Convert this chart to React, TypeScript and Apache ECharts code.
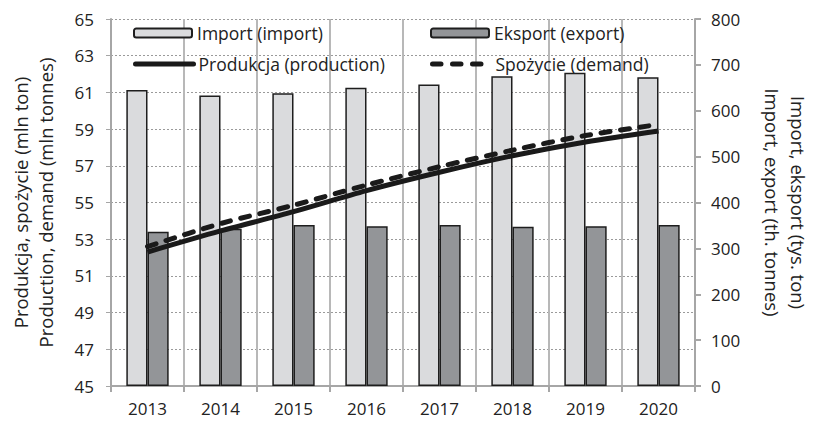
import React, { useEffect, useRef } from "react";
import * as echarts from "echarts";

const years = ["2013", "2014", "2015", "2016", "2017", "2018", "2019", "2020"];
const importVals = [645, 633, 638, 650, 657, 675, 683, 673];
const exportVals = [336, 343, 351, 348, 351, 347, 348, 351];
const production = [52.3, 53.45, 54.5, 55.65, 56.65, 57.55, 58.3, 58.9];
const demand = [52.6, 53.85, 54.85, 55.95, 56.95, 57.85, 58.65, 59.25];

const names = {
  imp: "Import (import)",
  exp: "Eksport (export)",
  prod: "Produkcja (production)",
  dem: "Spożycie (demand)",
};

const FONT = "Open Sans";
const TXT = "#222";
const AX = "#a6a6a6";
const LINE = "#1a1a1a";

export default function App() {
  const ref = useRef<HTMLDivElement>(null);
  useEffect(() => {
    if (!ref.current) return;
    const chart = echarts.init(ref.current, undefined, { renderer: "svg" });
    const legendBase = {
      padding: 0,
      itemGap: 0,
      itemWidth: 58,
      itemHeight: 9,
      textStyle: { fontFamily: FONT, fontSize: 17.5, color: TXT, padding: [0, 0, 0, 0] },
      selectedMode: false as const,
    };
    chart.setOption({
      animation: false,
      textStyle: { fontFamily: FONT },
      grid: { left: 105, right: 110, top: 19, bottom: 36 },
      legend: [
        { ...legendBase, left: 133, top: 24, data: [names.imp] },
        { ...legendBase, left: 430, top: 24, data: [names.exp] },
        {
          ...legendBase,
          left: 133,
          top: 55,
          data: [names.prod],
          itemStyle: { opacity: 0 },
          lineStyle: { width: 5, color: LINE, type: "solid", cap: "round" },
        },
        {
          ...legendBase,
          left: 430,
          top: 55,
          data: [names.dem],
          itemStyle: { opacity: 0 },
          lineStyle: { width: 5, color: LINE, type: [8.5, 11.5], cap: "round" },
        },
      ],
      xAxis: {
        type: "category",
        data: years,
        boundaryGap: true,
        axisLine: { lineStyle: { color: AX, width: 2 } },
        axisTick: { show: true, length: 6, lineStyle: { color: AX, width: 2 } },
        axisLabel: { fontFamily: FONT, fontSize: 17, color: TXT, margin: 14 },
        splitLine: { show: true, lineStyle: { color: "#b8b8b8", width: 2 } },
      },
      yAxis: [
        {
          type: "value",
          min: 45,
          max: 65,
          interval: 2,
          position: "left",
          name: "Produkcja, spożycie (mln ton)\nProduction, demand (mln tonnes)",
          nameLocation: "middle",
          nameRotate: 90,
          nameGap: 53,
          nameTextStyle: { fontFamily: FONT, fontSize: 18.5, color: TXT, lineHeight: 25 },
          axisLine: { show: true, lineStyle: { color: AX, width: 2 } },
          axisTick: { show: true, length: 5, lineStyle: { color: AX } },
          axisLabel: { fontFamily: FONT, fontSize: 17, color: TXT, margin: 17 },
          splitLine: { show: true, lineStyle: { color: "#9a9a9a", width: 1, type: [2, 2] } },
        },
        {
          type: "value",
          min: 0,
          max: 800,
          interval: 100,
          position: "right",
          name: "Import, eksport (tys. ton)\nImport, export (th. tonnes)",
          nameLocation: "middle",
          nameRotate: -90,
          nameGap: 64,
          nameTextStyle: { fontFamily: FONT, fontSize: 18.5, color: TXT, lineHeight: 26 },
          axisLine: { show: true, lineStyle: { color: AX, width: 2 } },
          axisTick: { show: true, length: 6, lineStyle: { color: AX, width: 2 } },
          axisLabel: { fontFamily: FONT, fontSize: 17, color: TXT, margin: 16 },
          splitLine: { show: false },
        },
      ],
      series: [
        {
          name: names.imp,
          type: "bar",
          yAxisIndex: 1,
          data: importVals,
          barGap: "0%",
          barCategoryGap: "42%",
          itemStyle: { color: "#dadbdd", borderColor: "#1e1e1e", borderWidth: 1.5 },
        },
        {
          name: names.exp,
          type: "bar",
          yAxisIndex: 1,
          data: exportVals,
          itemStyle: { color: "#939598", borderColor: "#1e1e1e", borderWidth: 1.5 },
        },
        {
          name: names.prod,
          type: "line",
          yAxisIndex: 0,
          data: production,
          smooth: 0.3,
          symbol: "none",
          itemStyle: { color: LINE },
          lineStyle: { color: LINE, width: 5 },
        },
        {
          name: names.dem,
          type: "line",
          yAxisIndex: 0,
          data: demand,
          smooth: 0.3,
          symbol: "none",
          itemStyle: { color: LINE },
          lineStyle: { color: LINE, width: 5, type: [9, 10.5], cap: "round" },
        },
      ],
    });
    return () => chart.dispose();
  }, []);
  return (
    <div
      ref={ref}
      style={{ position: "fixed", left: 0, top: 0, width: 819, height: 422, background: "#fff" }}
    />
  );
}
